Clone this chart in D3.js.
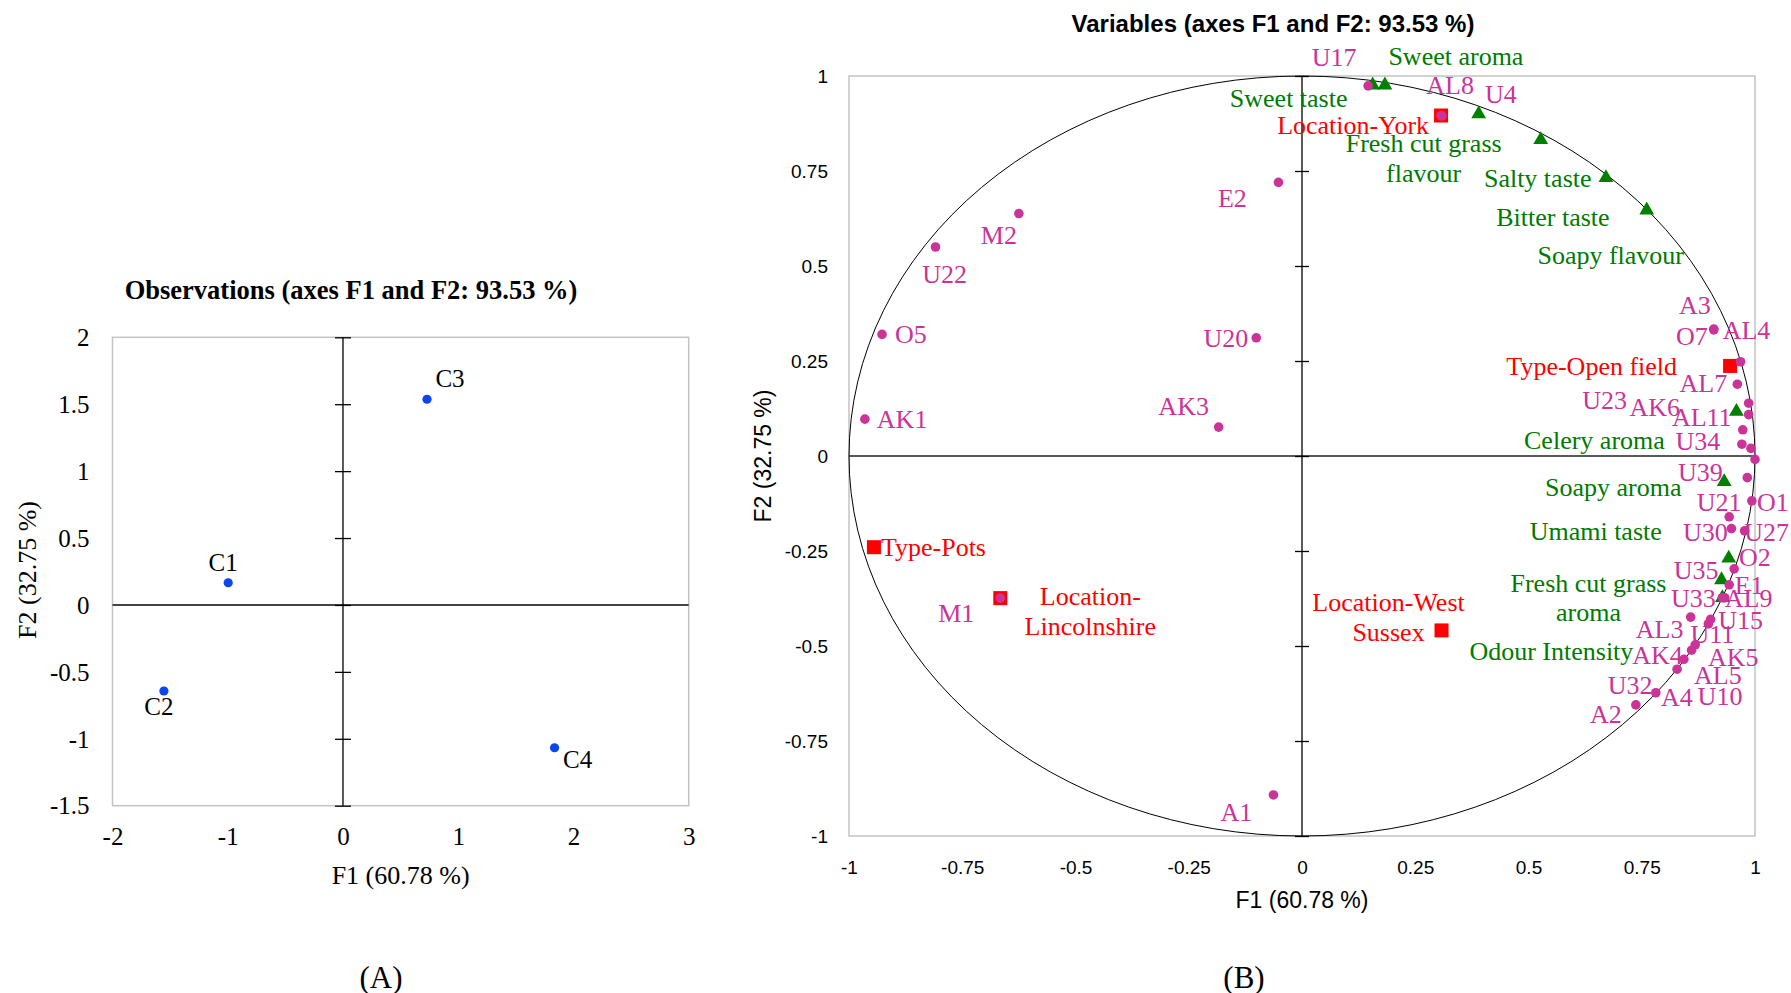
<!DOCTYPE html>
<html>
<head>
<meta charset="utf-8">
<script src="https://cdn.jsdelivr.net/npm/d3@7"></script>
<style>
  body { margin: 0; background: #fff; }
  svg { display: block; }
</style>
</head>
<body>
<svg id="chart" width="1791" height="993"></svg>
<script>
// ---------- (A) observations ----------
const obsNames = ["C1", "C2", "C3", "C4"];
const obsF1 = [-0.996, -1.554, 0.729, 1.836];
const obsF2 = [0.166, -0.643, 1.537, -1.067];
const obsTicksF1 = [-2, -1, 0, 1, 2, 3];
const obsTicksF2 = [-1.5, -1, -0.5, 0, 0.5, 1, 1.5, 2];

// ---------- (B) variables ----------
const sampleNames = ["U17", "AL8", "U4", "E2", "M2", "U22", "O5", "AK1", "U20", "AK3",
  "M1", "A1", "A3", "O7", "AL4", "AL7", "U23", "AK6", "AL11", "U34",
  "O2", "U10", "U39", "O1", "U21", "U30", "U27", "U35", "E1", "U33",
  "AL9", "AL3", "U15", "U11", "AK5", "AK4", "AL5", "U32", "A4", "A2"];
const sampleF1 = [0.146, 0.307, 0.309, -0.052, -0.625, -0.809, -0.927, -0.965, -0.101, -0.184,
  -0.666, -0.063, 0.909, 0.909, 0.968, 0.961, 0.986, 0.986, 0.973, 0.971,
  0.991, 1.000, 0.983, 0.993, 0.943, 0.948, 0.977, 0.954, 0.943, 0.928,
  0.933, 0.858, 0.902, 0.897, 0.868, 0.860, 0.843, 0.828, 0.781, 0.737];
const sampleF2 = [0.974, 0.896, 0.895, 0.720, 0.638, 0.550, 0.320, 0.097, 0.311, 0.076,
  -0.374, -0.892, 0.334, 0.332, 0.248, 0.189, 0.139, 0.109, 0.069, 0.031,
  0.020, -0.009, -0.057, -0.118, -0.160, -0.191, -0.197, -0.297, -0.339, -0.373,
  -0.373, -0.424, -0.430, -0.442, -0.497, -0.511, -0.535, -0.561, -0.623, -0.655];

const sensoryNames = ["Sweet taste", "Sweet aroma", "Fresh cut grass flavour", "Salty taste",
  "Bitter taste", "Soapy flavour", "Celery aroma", "Soapy aroma", "Umami taste",
  "Fresh cut grass aroma", "Odour Intensity"];
const sensoryF1 = [0.156, 0.183, 0.390, 0.527, 0.671, 0.761, 0.959, 0.932, 0.942, 0.926, 0.928];
const sensoryF2 = [0.976, 0.976, 0.900, 0.832, 0.732, 0.647, 0.117, -0.068, -0.269, -0.326, -0.373];

const factorNames = ["Location-York", "Type-Open field", "Type-Pots",
  "Location-Lincolnshire", "Location-West Sussex"];
const factorF1 = [0.307, 0.945, -0.945, -0.666, 0.308];
const factorF2 = [0.896, 0.237, -0.240, -0.374, -0.459];

const varTicks = [-1, -0.75, -0.5, -0.25, 0, 0.25, 0.5, 0.75, 1];

// ---------- label placement (pixel nudges from the mark) ----------
const nudge = {
  C1: [-5, -21], C2: [-5, 15], C3: [23, -21], C4: [23, 11],
  U17: [-34, -29], AL8: [9, -31], U4: [59, -22], E2: [-46, 16], M2: [-20, 21],
  U22: [9, 27], O5: [13, 0], AK1: [12, 0], U20: [-8, 0], AK3: [-35, -21],
  M1: [-44, 15], A1: [-37, 17], A3: [-19, -24], O7: [-22, 6], AL4: [6, -32],
  AL7: [-34, -1], U23: [-144, -3], AK6: [-94, -8], AL11: [-41, -13], U34: [-44, -3],
  O2: [4, 109], U10: [-35, 237], U39: [-47, -6], O1: [21, 1], U21: [-10, -15],
  U30: [-26, 3], U27: [22, 1], U35: [-38, 1], E1: [20, 0], U33: [-29, 0],
  AL9: [24, 0], AL3: [-31, 12], U15: [30, 1], U11: [4, 10], AK5: [38, 12],
  AK4: [-34, 5], AL5: [34, 16], U32: [-47, 16], A4: [21, 4], A2: [-30, 9],
  "Sweet taste": [-84, 13], "Sweet aroma": [71, -29], "Fresh cut grass flavour": [-55, 29],
  "Salty taste": [-3, 38], "Bitter taste": [-53, 39], "Soapy flavour": [-36, 45],
  "Celery aroma": [-142, 28], "Soapy aroma": [-111, 5], "Umami taste": [-133, -27],
  "Fresh cut grass aroma": [-133, 3], "Odour Intensity": [-171, 53],
  "Location-York": [-12, 9], "Type-Open field": [-53, 0], "Type-Pots": [7, 0],
  "Location-Lincolnshire": [90, -2], "Location-West Sussex": [-53, -28]
};
const anchorStart = new Set(["O5", "AK1", "Type-Pots"]);
const anchorEnd = new Set(["U20", "Location-York", "Type-Open field"]);
const wrapped = {
  "Fresh cut grass flavour": ["Fresh cut grass", "flavour"],
  "Fresh cut grass aroma": ["Fresh cut grass", "aroma"],
  "Location-Lincolnshire": ["Location-", "Lincolnshire"],
  "Location-West Sussex": ["Location-West", "Sussex"]
};

const SERIF = "'Liberation Serif', 'Times New Roman', serif";
const SANS = "'Liberation Sans', Arial, sans-serif";
const fmt = d => String(d);

const svg = d3.select("#chart");

function putLabel(g, name, px, py, color, size) {
  const n = nudge[name] || [0, 0];
  const lines = wrapped[name] || [name];
  const anchor = anchorStart.has(name) ? "start" : anchorEnd.has(name) ? "end" : "middle";
  const t = g.append("text")
    .attr("x", px + n[0]).attr("y", py + n[1])
    .attr("text-anchor", anchor)
    .attr("dominant-baseline", "central")
    .attr("font-family", SERIF).attr("font-size", size)
    .attr("fill", color);
  lines.forEach((ln, i) => {
    t.append("tspan").attr("x", px + n[0]).attr("y", py + n[1] + i * 29.5).text(ln);
  });
}

// ===================== panel A =====================
const xObs = d3.scaleLinear().domain([-2, 3]).range([112.5, 688.7]);
const yObs = d3.scaleLinear().domain([-1.5, 2]).range([805.7, 337.3]);
const gA = svg.append("g");

gA.append("rect")
  .attr("x", xObs(-2)).attr("y", yObs(2))
  .attr("width", xObs(3) - xObs(-2)).attr("height", yObs(-1.5) - yObs(2))
  .attr("fill", "none").attr("stroke", "#c3c3c3").attr("stroke-width", 1.5);

gA.append("line")
  .attr("x1", xObs(-2)).attr("x2", xObs(3)).attr("y1", yObs(0)).attr("y2", yObs(0))
  .attr("stroke", "#444").attr("stroke-width", 2);
gA.append("line")
  .attr("x1", xObs(0)).attr("x2", xObs(0)).attr("y1", yObs(2)).attr("y2", yObs(-1.5))
  .attr("stroke", "#000").attr("stroke-width", 1.3);

// cross ticks on the vertical axis
gA.append("g")
  .attr("transform", `translate(${xObs(0) - 8},0)`)
  .call(d3.axisRight(yObs).tickValues(obsTicksF2).tickSize(16).tickFormat(""))
  .call(g => g.select(".domain").remove())
  .call(g => g.selectAll("line").attr("stroke", "#000").attr("stroke-width", 1.3));

gA.append("g")
  .attr("transform", `translate(${xObs(-2)},0)`)
  .call(d3.axisLeft(yObs).tickValues(obsTicksF2).tickSize(0).tickPadding(23).tickFormat(fmt))
  .call(g => g.select(".domain").remove())
  .call(g => g.selectAll("text").attr("font-family", SERIF).attr("font-size", 25)
    .attr("fill", "#000").attr("dy", "0.33em"));

gA.append("g")
  .attr("transform", `translate(0,${yObs(-1.5)})`)
  .call(d3.axisBottom(xObs).tickValues(obsTicksF1).tickSize(0).tickFormat(fmt))
  .call(g => g.select(".domain").remove())
  .call(g => g.selectAll("text").attr("font-family", SERIF).attr("font-size", 25)
    .attr("fill", "#000").attr("y", 31).attr("dy", "0.33em"));

gA.selectAll("circle.obs")
  .data(obsNames)
  .join("circle")
  .attr("class", "obs")
  .attr("cx", (d, i) => xObs(obsF1[i]))
  .attr("cy", (d, i) => yObs(obsF2[i]))
  .attr("r", 4.6)
  .attr("fill", "#0a45ee");
obsNames.forEach((name, i) => putLabel(gA, name, xObs(obsF1[i]), yObs(obsF2[i]), "#000", 25));

gA.append("text").attr("x", 351).attr("y", 290)
  .attr("text-anchor", "middle").attr("dominant-baseline", "central")
  .attr("font-family", SERIF).attr("font-weight", "bold").attr("font-size", 26.5)
  .text("Observations (axes F1 and F2: 93.53 %)");
gA.append("text").attr("x", 400.6).attr("y", 875)
  .attr("text-anchor", "middle").attr("dominant-baseline", "central")
  .attr("font-family", SERIF).attr("font-size", 26)
  .text("F1 (60.78 %)");
gA.append("text")
  .attr("transform", "translate(27.5,570) rotate(-90)")
  .attr("text-anchor", "middle").attr("dominant-baseline", "central")
  .attr("font-family", SERIF).attr("font-size", 26)
  .text("F2 (32.75 %)");
gA.append("text").attr("x", 381).attr("y", 977)
  .attr("text-anchor", "middle").attr("dominant-baseline", "central")
  .attr("font-family", SERIF).attr("font-size", 31)
  .text("(A)");

// ===================== panel B =====================
const xVar = d3.scaleLinear().domain([-1, 1]).range([849, 1755]);
const yVar = d3.scaleLinear().domain([-1, 1]).range([836, 76]);
const gB = svg.append("g");

gB.append("rect")
  .attr("x", xVar(-1)).attr("y", yVar(1))
  .attr("width", xVar(1) - xVar(-1)).attr("height", yVar(-1) - yVar(1))
  .attr("fill", "none").attr("stroke", "#c3c3c3").attr("stroke-width", 1.5);

gB.append("ellipse")
  .attr("cx", xVar(0)).attr("cy", yVar(0))
  .attr("rx", xVar(1) - xVar(0)).attr("ry", yVar(0) - yVar(1))
  .attr("fill", "none").attr("stroke", "#000").attr("stroke-width", 1);

gB.append("line")
  .attr("x1", xVar(-1)).attr("x2", xVar(1)).attr("y1", yVar(0)).attr("y2", yVar(0))
  .attr("stroke", "#222").attr("stroke-width", 1.5);
gB.append("line")
  .attr("x1", xVar(0)).attr("x2", xVar(0)).attr("y1", yVar(1)).attr("y2", yVar(-1))
  .attr("stroke", "#000").attr("stroke-width", 1.3);

gB.append("g")
  .attr("transform", `translate(${xVar(0) - 7},0)`)
  .call(d3.axisRight(yVar).tickValues(varTicks).tickSize(14).tickFormat(""))
  .call(g => g.select(".domain").remove())
  .call(g => g.selectAll("line").attr("stroke", "#000").attr("stroke-width", 1.3));

gB.append("g")
  .attr("transform", `translate(${xVar(-1)},0)`)
  .call(d3.axisLeft(yVar).tickValues(varTicks).tickSize(0).tickPadding(21).tickFormat(fmt))
  .call(g => g.select(".domain").remove())
  .call(g => g.selectAll("text").attr("font-family", SANS).attr("font-size", 19)
    .attr("fill", "#000").attr("dy", "0.35em"));

gB.append("g")
  .attr("transform", `translate(0,${yVar(-1)})`)
  .call(d3.axisBottom(xVar).tickValues(varTicks).tickSize(0).tickFormat(fmt))
  .call(g => g.select(".domain").remove())
  .call(g => g.selectAll("text").attr("font-family", SANS).attr("font-size", 19)
    .attr("fill", "#000").attr("y", 31).attr("dy", "0.35em"));

// supplementary factors (red squares)
const sq = 14;
gB.selectAll("rect.factor")
  .data(factorNames)
  .join("rect")
  .attr("class", "factor")
  .attr("x", (d, i) => xVar(factorF1[i]) - sq / 2)
  .attr("y", (d, i) => yVar(factorF2[i]) - sq / 2)
  .attr("width", sq).attr("height", sq)
  .attr("fill", "#ff0000");

// sensory attributes (green triangles)
const tri = d3.symbol().type(d3.symbolTriangle).size(95);
gB.selectAll("path.sensory")
  .data(sensoryNames)
  .join("path")
  .attr("class", "sensory")
  .attr("d", tri)
  .attr("transform", (d, i) => `translate(${xVar(sensoryF1[i])},${yVar(sensoryF2[i])})`)
  .attr("fill", "#008000");

// samples (magenta dots)
gB.selectAll("circle.sample")
  .data(sampleNames)
  .join("circle")
  .attr("class", "sample")
  .attr("cx", (d, i) => xVar(sampleF1[i]))
  .attr("cy", (d, i) => yVar(sampleF2[i]))
  .attr("r", 4.8)
  .attr("fill", "#cc3399");

sampleNames.forEach((name, i) => putLabel(gB, name, xVar(sampleF1[i]), yVar(sampleF2[i]), "#cc3399", 26));
sensoryNames.forEach((name, i) => putLabel(gB, name, xVar(sensoryF1[i]), yVar(sensoryF2[i]), "#007a00", 26));
factorNames.forEach((name, i) => putLabel(gB, name, xVar(factorF1[i]), yVar(factorF2[i]), "#ff0000", 26));

gB.append("text").attr("x", 1273).attr("y", 23)
  .attr("text-anchor", "middle").attr("dominant-baseline", "central")
  .attr("font-family", SANS).attr("font-weight", "bold").attr("font-size", 24)
  .text("Variables (axes F1 and F2: 93.53 %)");
gB.append("text").attr("x", xVar(0)).attr("y", 900)
  .attr("text-anchor", "middle").attr("dominant-baseline", "central")
  .attr("font-family", SANS).attr("font-size", 23)
  .text("F1 (60.78 %)");
gB.append("text")
  .attr("transform", `translate(763,${yVar(0)}) rotate(-90)`)
  .attr("text-anchor", "middle").attr("dominant-baseline", "central")
  .attr("font-family", SANS).attr("font-size", 23)
  .text("F2 (32.75 %)");
gB.append("text").attr("x", 1244).attr("y", 977)
  .attr("text-anchor", "middle").attr("dominant-baseline", "central")
  .attr("font-family", SERIF).attr("font-size", 31)
  .text("(B)");
</script>
</body>
</html>
